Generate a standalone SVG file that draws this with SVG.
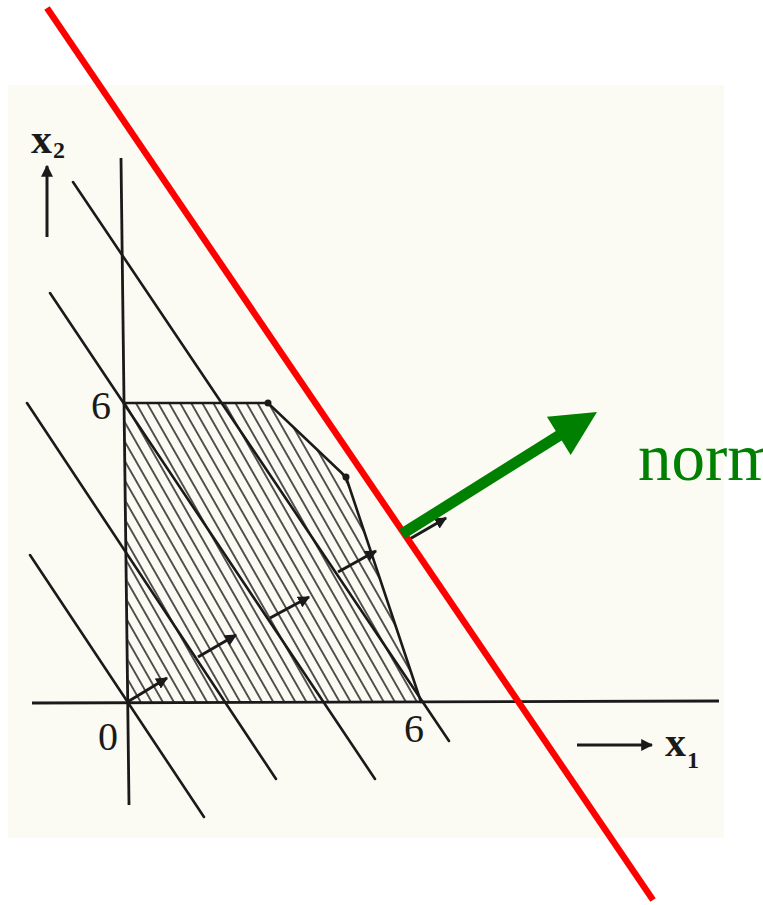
<svg xmlns="http://www.w3.org/2000/svg" width="763" height="905" viewBox="0 0 763 905">
  <defs>
    <style>
      .ln { stroke: #1a1a1a; stroke-width: 2.6; fill: none; stroke-linecap: round; }
      .ax { stroke: #1a1a1a; stroke-width: 2.8; fill: none; }
      .arr { stroke: #1a1a1a; stroke-width: 3; fill: none; marker-end: url(#ah); }
      .lbl { font-family: "Liberation Serif", "Times New Roman", serif; fill: #1a1a1a; }
      .var { font-family: "Liberation Serif", "Times New Roman", serif; fill: #1a1a1a; font-weight: bold; }
    </style>
    <marker id="ah" viewBox="0 0 10 10" refX="9" refY="5" markerWidth="4" markerHeight="4" markerUnits="strokeWidth" orient="auto">
      <path d="M0,0 L10,5 L0,10 Z" fill="#1a1a1a"/>
    </marker>
    <pattern id="hatch" patternUnits="userSpaceOnUse" width="9.6" height="20" patternTransform="rotate(-29.7)">
      <line x1="4.8" y1="0" x2="4.8" y2="20" stroke="#1e1e1e" stroke-width="1.5"/>
    </pattern>
  </defs>

  <rect x="0" y="0" width="763" height="905" fill="#ffffff"/>
  <rect x="8" y="85" width="716" height="753" fill="#fbfbf4"/>

  <g id="feasible-region">
    <polygon points="125,403 268,403 346,477 421,702 129,703" fill="url(#hatch)"/>
    <polyline class="ln" points="125,403 268,403 346,477 421,702"/>
    <circle cx="268" cy="403" r="3.5" fill="#1a1a1a"/>
    <circle cx="346" cy="477" r="3.5" fill="#1a1a1a"/>
  </g>

  <g id="axes">
    <line class="ax" x1="32" y1="703" x2="719" y2="701"/>
    <line class="ax" x1="121" y1="158" x2="129" y2="805"/>
    <line class="arr" x1="47" y1="237" x2="47" y2="166"/>
    <line class="arr" x1="577" y1="745" x2="652" y2="745"/>
    <text class="var" x="31" y="153" font-size="42">x</text>
    <text class="var" x="53" y="158" font-size="24">2</text>
    <text class="var" x="665" y="756" font-size="42">x</text>
    <text class="var" x="687" y="768" font-size="24">1</text>
    <text class="lbl" x="111" y="419" font-size="40" text-anchor="end">6</text>
    <text class="lbl" x="118" y="750" font-size="40" text-anchor="end">0</text>
    <text class="lbl" x="404" y="742" font-size="40">6</text>
  </g>

  <g id="iso-lines">
    <line class="ln" x1="30" y1="555" x2="204" y2="817"/>
    <line class="ln" x1="27" y1="403" x2="276" y2="779"/>
    <line class="ln" x1="50" y1="293" x2="375" y2="779"/>
    <line class="ln" x1="73" y1="182" x2="449" y2="741"/>
  </g>

  <g id="direction-arrows">
    <line class="arr" x1="129" y1="701" x2="167" y2="678"/>
    <line class="arr" x1="198" y1="657" x2="236" y2="635"/>
    <line class="arr" x1="270" y1="618" x2="309" y2="597"/>
    <line class="arr" x1="338" y1="572" x2="376" y2="551"/>
    <line class="arr" x1="408" y1="540" x2="446" y2="518"/>
  </g>

  <g id="red-line">
    <line x1="47" y1="8" x2="653" y2="900" stroke="#ff0000" stroke-width="6.5"/>
  </g>

  <g id="normal">
    <line x1="402" y1="534" x2="560" y2="435" stroke="#008000" stroke-width="11"/>
    <polygon points="597,412 570.7,455 546.9,416.8" fill="#008000"/>
    <text x="638" y="480" font-family="'Liberation Serif', 'Times New Roman', serif" font-size="67" fill="#008000">norm</text>
  </g>
</svg>
